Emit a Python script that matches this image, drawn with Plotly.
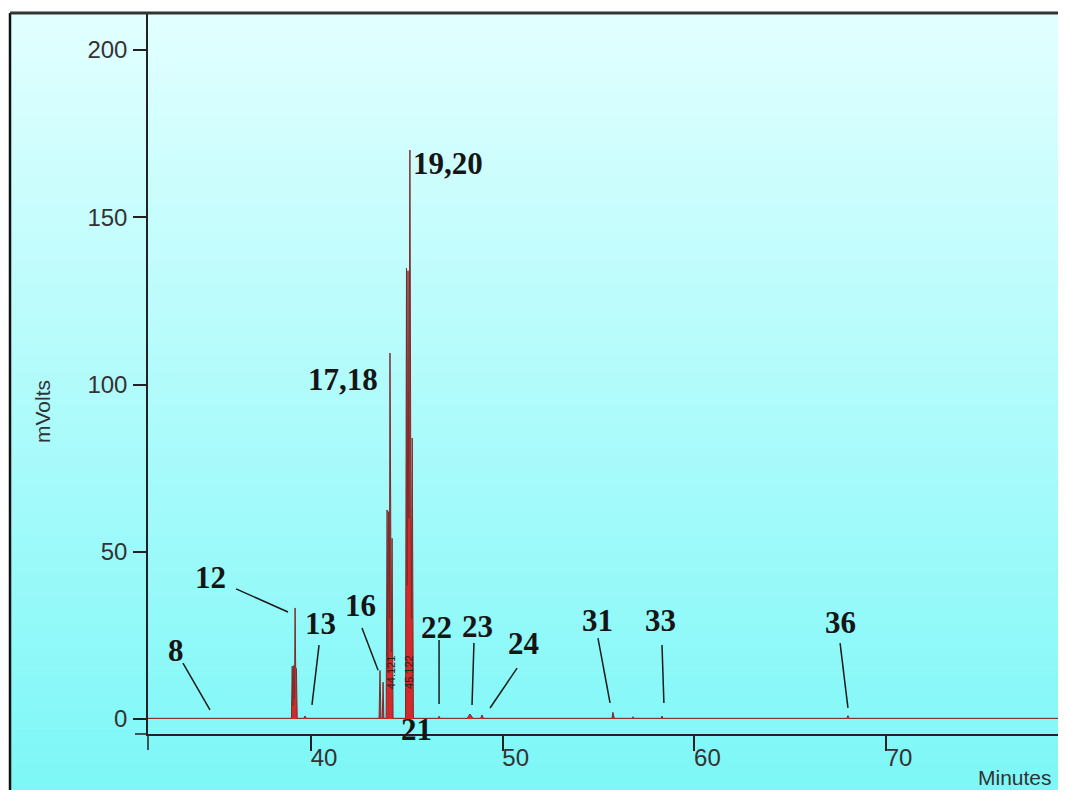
import plotly.graph_objects as go

# ---------------- data ----------------
time_min = [31.5, 38.98, 39.02, 39.06, 39.10, 39.14, 39.17, 39.20, 39.24, 39.28,
            39.62, 39.69, 39.76,
            43.55, 43.60, 43.65, 43.72, 43.76, 43.80,
            43.92, 43.97, 44.01, 44.05, 44.09, 44.12, 44.15, 44.19, 44.23, 44.28,
            44.93, 44.98, 45.02, 45.06, 45.10, 45.16, 45.20, 45.24, 45.28, 45.34,
            46.62, 46.68, 46.74,
            48.15, 48.29, 48.45, 48.85, 48.92, 49.00,
            55.70, 55.75, 55.82, 56.77, 56.80, 56.83,
            58.27, 58.31, 58.35,
            67.95, 68.01, 68.07,
            79.4]
signal_mv = [0.2, 0.2, 15.8, 4.0, 16.0, 6.0, 33.2, 15.5, 15.0, 0.2,
             0.2, 0.9, 0.2,
             0.2, 14.5, 0.2, 0.2, 11.0, 0.2,
             0.2, 62.5, 15.0, 62.0, 30.0, 109.4, 54.1, 20.0, 54.0, 0.2,
             0.2, 134.8, 40.0, 134.0, 60.0, 170.1, 84.0, 30.0, 84.0, 0.2,
             0.2, 0.8, 0.2,
             0.2, 1.5, 0.2, 0.2, 1.2, 0.2,
             0.2, 2.0, 0.2, 0.2, 0.7, 0.2,
             0.2, 0.9, 0.2,
             0.2, 1.0, 0.2,
             0.2]

peak_names = ["8", "12", "13", "16", "17,18", "19,20", "21", "22", "23", "24", "31", "33", "36"]
name_time = [32.96, 34.78, 40.52, 42.56, 41.67, 47.15, 45.48, 46.57, 48.66, 51.11, 54.92, 58.21, 67.60]
name_mv = [20.6, 42.2, 28.7, 33.8, 101.6, 166.2, -3.0, 27.5, 27.8, 22.7, 29.3, 29.3, 29.0]

# leader lines: (t0, v0, t1, v1)
leaders = [(33.32, 16.7, 34.73, 2.7), (36.09, 38.9, 38.80, 32.0), (40.42, 22.1, 40.05, 4.2),
           (42.66, 27.2, 43.50, 14.6), (46.68, 23.6, 46.68, 4.5), (48.50, 22.7, 48.40, 4.2),
           (50.75, 15.2, 49.34, 3.3), (54.97, 24.2, 55.60, 4.8), (58.31, 22.1, 58.41, 4.8),
           (67.60, 22.7, 68.01, 3.3)]

# small rotated retention-time labels
rt_text = ["44.121", "45.122"]
rt_time = [44.18, 45.10]
rt_mv = [14.0, 14.0]

x_ticks = [40, 50, 60, 70]
y_ticks = [0, 50, 100, 150, 200]

# ---------------- figure ----------------
OFF = 8  # the page body adds an 8px margin on every side
W, H = 1066 - OFF, 798 - 2 * OFF
L, T = 148 - OFF, 13 - OFF
B = H - (734 - OFF)
R = 0
pw, ph = W - L - R, H - T - B


def px2paper(px, py):
    """convert reference-picture pixels to paper coordinates"""
    return (px - OFF - L) / pw, (H - B - (py - OFF)) / ph


fig = go.Figure()
fig.add_trace(go.Scatter(x=time_min, y=signal_mv, mode="lines",
                         line=dict(color="#7a2c2c", width=1),
                         fill="tozeroy", fillcolor="#d42a2a",
                         hoverinfo="skip", showlegend=False))

shapes = []
# background gradient (top light -> bottom saturated cyan)
n = 90
top_c = (226, 255, 255)
bot_c = (124, 247, 247)
x0p, _ = px2paper(10, 0)
x1p, _ = px2paper(1066, 0)
for i in range(n):
    py0 = 13 + (798 - 13) * i / n
    py1 = 13 + (798 - 13) * (i + 1) / n + 0.6
    f = (i + 0.5) / n
    c = tuple(round(top_c[k] + (bot_c[k] - top_c[k]) * f) for k in range(3))
    _, y0p = px2paper(0, py0)
    _, y1p = px2paper(0, py1)
    shapes.append(dict(type="rect", xref="paper", yref="paper", x0=x0p, x1=x1p,
                       y0=y1p, y1=y0p, line=dict(width=0),
                       fillcolor="rgb(%d,%d,%d)" % c, layer="below"))
# frame
_, ytop = px2paper(0, 13)
_, ybot = px2paper(0, 798)
shapes.append(dict(type="line", xref="paper", yref="paper", x0=x0p, x1=x0p, y0=ybot, y1=ytop,
                   line=dict(color="#111", width=2.5)))
shapes.append(dict(type="line", xref="paper", yref="paper", x0=x0p, x1=x1p, y0=ytop, y1=ytop,
                   line=dict(color="#333", width=3)))
# axis extensions (crossing)
_, yext = px2paper(0, 750)
xext, _ = px2paper(135, 0)
shapes.append(dict(type="line", xref="paper", yref="paper", x0=0, x1=0, y0=yext, y1=0,
                   line=dict(color="#222", width=1.5)))
shapes.append(dict(type="line", xref="paper", yref="paper", x0=xext, x1=0, y0=0, y1=0,
                   line=dict(color="#222", width=1.5)))
# leader lines
for t0, v0, t1, v1 in leaders:
    shapes.append(dict(type="line", xref="x", yref="y", x0=t0, y0=v0, x1=t1, y1=v1,
                       line=dict(color="#1a1a1a", width=1.5)))

annotations = []
for name, t, v in zip(peak_names, name_time, name_mv):
    annotations.append(dict(x=t, y=v, xref="x", yref="y", text="<b>%s</b>" % name,
                            showarrow=False, xanchor="center", yanchor="middle",
                            font=dict(family="Liberation Serif, Times New Roman, serif",
                                      size=31, color="#151515")))
for s, t, v in zip(rt_text, rt_time, rt_mv):
    annotations.append(dict(x=t, y=v, xref="x", yref="y", text=s, textangle=-90,
                            showarrow=False, xanchor="center", yanchor="middle",
                            font=dict(family="Liberation Sans, Arial, sans-serif",
                                      size=11, color="#222")))
mx, my = px2paper(42, 412)
annotations.append(dict(x=mx, y=my, xref="paper", yref="paper", text="mVolts", textangle=-90,
                        showarrow=False, xanchor="center", yanchor="middle",
                        font=dict(family="Liberation Sans, Arial, sans-serif", size=21, color="#333")))
nx, ny = px2paper(1054, 777)
annotations.append(dict(x=nx, y=ny, xref="paper", yref="paper", text="Minutes",
                        showarrow=False, xanchor="right", yanchor="middle",
                        font=dict(family="Liberation Sans, Arial, sans-serif", size=21, color="#333")))

fig.update_layout(
    width=W, height=H,
    margin=dict(l=L, r=R, t=T, b=B, pad=0),
    paper_bgcolor="white", plot_bgcolor="rgba(0,0,0,0)",
    shapes=shapes, annotations=annotations, showlegend=False,
    xaxis=dict(range=[31.497, 79.385], showgrid=False, zeroline=False,
               showline=True, linecolor="#222", linewidth=1.5,
               ticks="outside", ticklen=15, tickwidth=1.5, tickcolor="#222",
               tickvals=x_ticks, ticktext=[str(v) for v in x_ticks],
               ticklabelshift=13, ticklabelstandoff=-14,
               tickfont=dict(family="Liberation Sans, Arial, sans-serif", size=24, color="#333")),
    yaxis=dict(range=[-4.484, 211.06], showgrid=False, zeroline=False,
               showline=True, linecolor="#222", linewidth=1.5,
               ticks="outside", ticklen=13, tickwidth=1.5, tickcolor="#222",
               tickvals=y_ticks, ticktext=[str(v) for v in y_ticks],
               ticklabelstandoff=1,
               tickfont=dict(family="Liberation Sans, Arial, sans-serif", size=24, color="#333")),
)

fig.write_html("out.html")
